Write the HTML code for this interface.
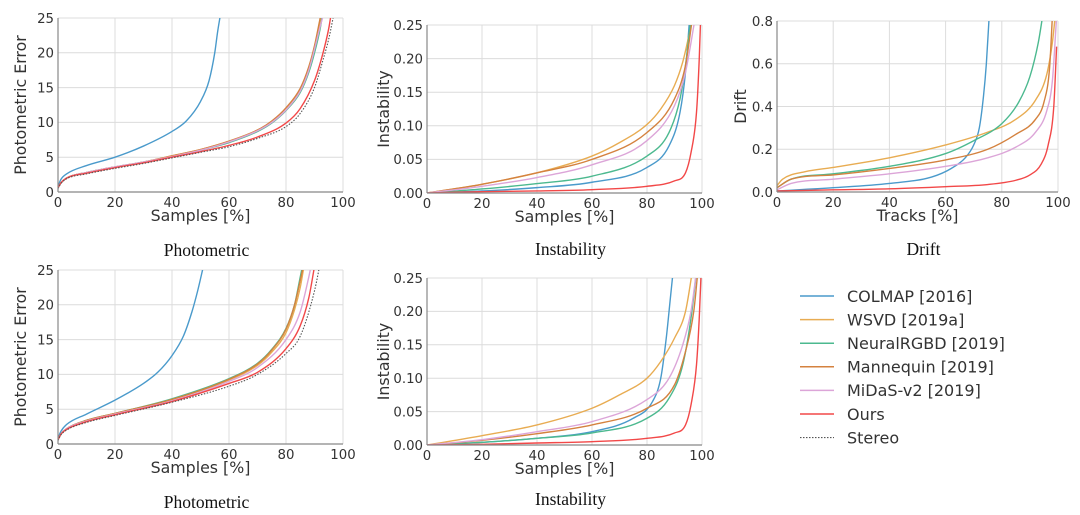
<!DOCTYPE html>
<html><head><meta charset="utf-8">
<style>
html,body{margin:0;padding:0;background:#fff;}
svg{display:block;}
.tick{font-family:"DejaVu Sans","Liberation Sans",sans-serif;font-size:13.3px;fill:#333;}
.alab{font-family:"DejaVu Sans","Liberation Sans",sans-serif;font-size:15.8px;fill:#333;}
.title{font-family:"Liberation Serif",serif;font-size:17.5px;fill:#111;}
.leg{font-family:"DejaVu Sans","Liberation Sans",sans-serif;font-size:16px;fill:#333;}
</style></head>
<body>
<svg id="fig" width="1080" height="515" viewBox="0 0 1080 515"></svg>
<script>
const seriesNames = ["COLMAP [2016]","WSVD [2019a]","NeuralRGBD [2019]","Mannequin [2019]","MiDaS-v2 [2019]","Ours","Stereo"];
const seriesKeys = ["colmap","wsvd","neuralrgbd","mannequin","midas","ours","stereo"];
const seriesColors = ["#4a9acb","#e8ac52","#4cb98f","#d4823f","#dca5d8","#f24848","#555"];

const xTicks = [0,20,40,60,80,100];
const photoTicks = [0,5,10,15,20,25];
const instTicks = [0,0.05,0.10,0.15,0.20,0.25];
const instTickLabels = ["0.00","0.05","0.10","0.15","0.20","0.25"];
const driftTicks = [0,0.2,0.4,0.6,0.8];
const driftTickLabels = ["0.0","0.2","0.4","0.6","0.8"];

// Photometric (top)
const p1 = {
 colmap:[[0,0.8],[1,1.8],[3,2.6],[10,3.8],[20,5],[30,6.6],[40,8.7],[45,10.2],[50,13],[53,16],[55,20],[56,23],[57,25.5]],
 wsvd:[[0,0.6],[1,1.3],[3,2],[10,2.8],[20,3.6],[30,4.3],[40,5.2],[50,6.1],[60,7.3],[70,8.9],[75,10.1],[80,12],[85,14.8],[88,17.8],[90,20.8],[92,24.5],[92.5,26]],
 neuralrgbd:[[0,0.6],[1,1.3],[3,2],[10,2.8],[20,3.6],[30,4.3],[40,5.1],[50,6],[60,7.1],[70,8.7],[75,9.9],[80,11.7],[85,14.3],[88,17.2],[90,20],[92,23.5],[93,26]],
 mannequin:[[0,0.6],[1,1.3],[3,2],[10,2.8],[20,3.6],[30,4.3],[40,5.2],[50,6.1],[60,7.3],[70,8.9],[75,10.2],[80,12.1],[85,14.9],[88,18],[90,21],[92,25],[92.5,26]],
 midas:[[0,0.6],[1,1.3],[3,2],[10,2.8],[20,3.6],[30,4.3],[40,5.1],[50,6],[60,7.2],[70,8.8],[75,10],[80,11.8],[85,14.5],[88,17.5],[90,20.5],[92,23.8],[93.5,26]],
 ours:[[0,0.6],[1,1.3],[3,2],[10,2.7],[20,3.5],[30,4.2],[40,5],[50,5.8],[60,6.7],[70,7.9],[80,9.9],[85,12],[90,16],[93,20],[95,23.5],[96,26]],
 stereo:[[0,0.5],[1,1.2],[3,1.9],[10,2.6],[20,3.4],[30,4.1],[40,4.9],[50,5.7],[60,6.5],[70,7.7],[80,9.4],[85,11.3],[90,15],[93,19],[95,22],[97,26]]
};
// Instability (top)
const p2 = {
 colmap:[[0,0],[20,0.003],[40,0.008],[60,0.016],[80,0.038],[88,0.07],[92,0.12],[94,0.18],[95.5,0.26]],
 wsvd:[[0,0],[20,0.013],[40,0.03],[60,0.055],[70,0.075],[80,0.102],[85,0.125],[90,0.16],[93,0.195],[95,0.23],[96.5,0.26]],
 neuralrgbd:[[0,0],[20,0.006],[40,0.014],[60,0.025],[80,0.055],[88,0.09],[92,0.14],[94,0.19],[96,0.26]],
 mannequin:[[0,0],[20,0.013],[40,0.03],[60,0.05],[80,0.09],[90,0.14],[94,0.19],[96.5,0.26]],
 midas:[[0,0],[20,0.01],[40,0.023],[60,0.042],[80,0.078],[90,0.13],[94,0.18],[97.5,0.26]],
 ours:[[0,0],[20,0.002],[40,0.003],[60,0.005],[80,0.01],[90,0.018],[94,0.03],[96,0.06],[98,0.12],[99,0.2],[99.5,0.26]]
};
// Drift
const p3 = {
 colmap:[[0,0.005],[20,0.02],[40,0.04],[55,0.07],[62,0.11],[67,0.16],[70,0.22],[72,0.3],[73.5,0.45],[74.5,0.6],[75.5,0.82]],
 wsvd:[[0,0.03],[2,0.06],[10,0.095],[20,0.115],[40,0.16],[60,0.22],[75,0.28],[85,0.34],[92,0.43],[96,0.55],[98,0.7],[99,0.82]],
 neuralrgbd:[[0,0.02],[5,0.06],[20,0.085],[40,0.12],[60,0.18],[70,0.24],[80,0.32],[86,0.42],[90,0.54],[93,0.7],[94.5,0.82]],
 mannequin:[[0,0.02],[5,0.06],[20,0.08],[40,0.11],[60,0.15],[75,0.2],[85,0.27],[92,0.34],[95,0.42],[97,0.58],[98,0.82]],
 midas:[[0,0.01],[5,0.04],[20,0.06],[40,0.085],[60,0.12],[75,0.16],[85,0.21],[92,0.28],[96,0.38],[98,0.52],[99.5,0.82]],
 ours:[[0,0.005],[20,0.01],[40,0.015],[60,0.025],[75,0.035],[85,0.055],[90,0.08],[94,0.13],[96.5,0.22],[98.5,0.4],[99.5,0.68]]
};
// Photometric (bottom)
const p4 = {
 colmap:[[0,0.8],[1,1.8],[3,2.8],[10,4.3],[20,6.3],[30,8.7],[35,10.3],[40,12.7],[44,15.5],[47,19],[49,22],[51,25.5]],
 wsvd:[[0,0.6],[1,1.4],[3,2.2],[10,3.4],[20,4.4],[40,6.4],[60,9.2],[70,11.3],[75,13.2],[80,16],[83,19.3],[85,22.5],[86.5,26]],
 neuralrgbd:[[0,0.6],[1,1.4],[3,2.2],[10,3.4],[20,4.4],[40,6.5],[60,9.4],[70,11.6],[75,13.6],[80,16.6],[83,20],[85,24],[86,26]],
 mannequin:[[0,0.6],[1,1.4],[3,2.2],[10,3.4],[20,4.4],[40,6.4],[60,9.3],[70,11.5],[75,13.5],[80,16.5],[83,20],[85,23.5],[86.3,26]],
 midas:[[0,0.6],[1,1.4],[3,2.2],[10,3.3],[20,4.3],[40,6.2],[60,9],[70,11],[80,15],[85,19],[88,24],[89,26]],
 ours:[[0,0.6],[1,1.4],[3,2.1],[10,3.2],[20,4.2],[40,6.1],[60,8.7],[70,10.3],[80,13.7],[85,17],[88,21],[90,25.5]],
 stereo:[[0,0.5],[1,1.3],[3,2],[10,3.1],[20,4.1],[40,6],[60,8.3],[70,10],[80,13],[85,15.5],[90,22],[92,26]]
};
// Instability (bottom)
const p5 = {
 colmap:[[0,0],[20,0.004],[40,0.01],[60,0.02],[75,0.04],[82,0.065],[85,0.1],[87,0.16],[88.5,0.22],[89.5,0.26]],
 wsvd:[[0,0],[20,0.014],[40,0.03],[60,0.055],[70,0.075],[80,0.1],[85,0.125],[90,0.16],[94,0.2],[96.5,0.26]],
 neuralrgbd:[[0,0],[20,0.004],[40,0.01],[60,0.018],[80,0.04],[88,0.07],[93,0.12],[96,0.19],[98,0.26]],
 mannequin:[[0,0],[20,0.007],[40,0.017],[60,0.03],[80,0.055],[90,0.09],[94,0.14],[97,0.2],[98.5,0.26]],
 midas:[[0,0],[20,0.008],[40,0.02],[60,0.035],[80,0.068],[88,0.1],[93,0.15],[96,0.2],[98,0.26]],
 ours:[[0,0],[20,0.001],[40,0.003],[60,0.005],[80,0.01],[90,0.018],[94,0.03],[96,0.06],[98,0.12],[99,0.19],[99.7,0.26]]
};

const NS="http://www.w3.org/2000/svg";
const svg=document.getElementById('fig');
function mk(tag,attrs,parent){const e=document.createElementNS(NS,tag);for(const k in attrs)e.setAttribute(k,attrs[k]);(parent||svg).appendChild(e);return e;}

function smoothPath(pts){
  const n=pts.length; if(n<2) return "";
  const dx=[],dy=[],m=[];
  for(let i=0;i<n-1;i++){dx.push(pts[i+1][0]-pts[i][0]);dy.push(pts[i+1][1]-pts[i][1]);m.push(dy[i]/dx[i]);}
  const t=[m[0]];
  for(let i=1;i<n-1;i++){t.push(m[i-1]*m[i]<=0?0:(m[i-1]+m[i])/2);}
  t.push(m[n-2]);
  for(let i=0;i<n-1;i++){ if(m[i]===0){t[i]=0;t[i+1]=0;continue;}
    const a=t[i]/m[i],b=t[i+1]/m[i],h=a*a+b*b; if(h>9){const s=3/Math.sqrt(h);t[i]=s*a*m[i];t[i+1]=s*b*m[i];}}
  let d="M"+pts[0][0].toFixed(2)+","+pts[0][1].toFixed(2);
  for(let i=0;i<n-1;i++){const h=dx[i]/3;
    d+=" C"+(pts[i][0]+h).toFixed(2)+","+(pts[i][1]+t[i]*h).toFixed(2)+" "+(pts[i+1][0]-h).toFixed(2)+","+(pts[i+1][1]-t[i+1]*h).toFixed(2)+" "+pts[i+1][0].toFixed(2)+","+pts[i+1][1].toFixed(2);}
  return d;
}

let clipId=0;
function panel(cfg){
  const {name,x0,x1,y0,y1,ymax,yt,ytl,data,xlabel,ylabel,title,titleY,ylabX}=cfg;
  const g=mk('g',{});
  
  
  const sx=v=>x0+(x1-x0)*v/100;
  const sy=v=>y0-(y0-y1)*v/ymax;
  const grid=mk('g',{},g);
  
  
  xTicks.forEach(v=>{ if(v>0) mk('line',{x1:sx(v),x2:sx(v),y1:y0,y2:y1,stroke:'#dcdcdc','stroke-width':1},grid);});
  yt.forEach(v=>{ if(v>0) mk('line',{x1:x0,x2:x1,y1:sy(v),y2:sy(v),stroke:'#dcdcdc','stroke-width':1},grid);});
  const cid='clip'+(clipId++);
  const cp=mk('clipPath',{id:cid},g);
  mk('rect',{x:x0,y:y1,width:x1-x0,height:y0-y1},cp);
  const sg=mk('g',{'clip-path':'url(#'+cid+')'},g);
  seriesKeys.forEach((k,i)=>{
    if(!data[k]) return;
    const pts=data[k].map(p=>[sx(p[0]),sy(p[1])]);
    const p=mk('path',{d:smoothPath(pts),fill:'none',stroke:seriesColors[i],'stroke-width':k==='stereo'?1.1:1.4},sg);
    if(k==='stereo') p.setAttribute('stroke-dasharray','1.5,1.5');
    
    
  });
  const ax=mk('g',{},g);
  
  
  mk('line',{x1:x0,x2:x0,y1:y0,y2:y1,stroke:'#888','stroke-width':1.2},ax);
  mk('line',{x1:x0,x2:x1,y1:y0,y2:y0,stroke:'#888','stroke-width':1.2},ax);
  xTicks.forEach(v=>{const t=mk('text',{x:sx(v),y:y0+15,'text-anchor':'middle',class:'tick'},ax);t.textContent=v;
    });
  yt.forEach((v,i)=>{const t=mk('text',{x:x0-4,y:sy(v)+4.8,'text-anchor':'end',class:'tick'},ax);t.textContent=ytl[i];
    });
  const xl=mk('text',{x:(x0+x1)/2,y:y0+29,'text-anchor':'middle',class:'alab'},g);xl.textContent=xlabel;
  
  const yc=(y0+y1)/2;
  const yl=mk('text',{x:ylabX,y:yc,'text-anchor':'middle',class:'alab',transform:'rotate(-90 '+ylabX+' '+yc+')'},g);yl.textContent=ylabel;
  
  const tt=mk('text',{x:(x0+x1)/2+6,y:titleY,'text-anchor':'middle',class:'title'},g);tt.textContent=title;
  
}

const photoLabels=photoTicks.map(String);
panel({name:'photometric-top-chart',x0:58,x1:343,y0:192,y1:18,ymax:25,yt:photoTicks,ytl:photoLabels,data:p1,xlabel:'Samples [%]',ylabel:'Photometric Error',title:'Photometric',titleY:256,ylabX:26});
panel({name:'instability-top-chart',x0:427,x1:702,y0:193,y1:25,ymax:0.25,yt:instTicks,ytl:instTickLabels,data:p2,xlabel:'Samples [%]',ylabel:'Instability',title:'Instability',titleY:255,ylabX:389});
panel({name:'drift-chart',x0:777,x1:1058,y0:192,y1:21,ymax:0.8,yt:driftTicks,ytl:driftTickLabels,data:p3,xlabel:'Tracks [%]',ylabel:'Drift',title:'Drift',titleY:255,ylabX:746});
panel({name:'photometric-bottom-chart',x0:58,x1:343,y0:444,y1:270,ymax:25,yt:photoTicks,ytl:photoLabels,data:p4,xlabel:'Samples [%]',ylabel:'Photometric Error',title:'Photometric',titleY:508,ylabX:26});
panel({name:'instability-bottom-chart',x0:427,x1:702,y0:445,y1:278,ymax:0.25,yt:instTicks,ytl:instTickLabels,data:p5,xlabel:'Samples [%]',ylabel:'Instability',title:'Instability',titleY:505,ylabX:389});

const lg=mk('g',{});


seriesNames.forEach((nm,i)=>{
  const y=296+i*23.6;
  const e=mk('g',{},lg);
  
  
  const l=mk('line',{x1:800,x2:834,y1:y,y2:y,stroke:seriesColors[i],'stroke-width':seriesKeys[i]==='stereo'?1.1:1.5},e);
  if(seriesKeys[i]==='stereo') l.setAttribute('stroke-dasharray','1.5,1.5');
  const t=mk('text',{x:847,y:y+5.8,class:'leg'},e);t.textContent=nm;
});
</script>
</body></html>
